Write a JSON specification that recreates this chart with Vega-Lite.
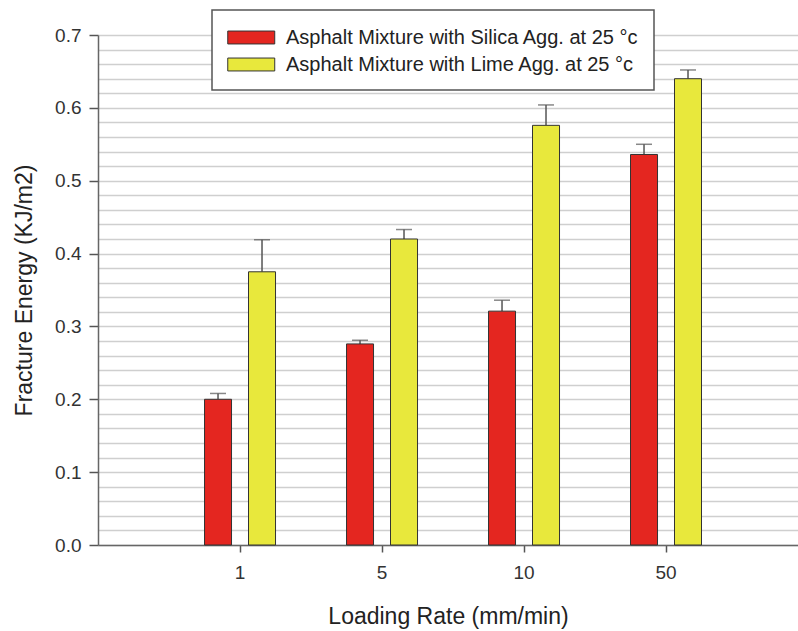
{
  "$schema": "https://vega.github.io/schema/vega-lite/v6.json",
  "width": 700,
  "height": 510,
  "autosize": {"type": "none"},
  "padding": {"left": 98, "top": 35, "right": 0, "bottom": 86},
  "background": "white",
  "config": {
    "view": {"stroke": null},
    "font": "Liberation Sans",
    "legend": {"strokeWidth": 1.5}
  },
  "resolve": {"axis": {"y": "independent"}},
  "data": {
    "values": [
      {"rate": "1", "series": "Asphalt Mixture with Silica Agg. at 25 °c", "value": 0.200, "upper": 0.208},
      {"rate": "1", "series": "Asphalt Mixture with Lime Agg. at 25 °c", "value": 0.375, "upper": 0.419},
      {"rate": "5", "series": "Asphalt Mixture with Silica Agg. at 25 °c", "value": 0.276, "upper": 0.281},
      {"rate": "5", "series": "Asphalt Mixture with Lime Agg. at 25 °c", "value": 0.420, "upper": 0.433},
      {"rate": "10", "series": "Asphalt Mixture with Silica Agg. at 25 °c", "value": 0.321, "upper": 0.336},
      {"rate": "10", "series": "Asphalt Mixture with Lime Agg. at 25 °c", "value": 0.576, "upper": 0.604},
      {"rate": "50", "series": "Asphalt Mixture with Silica Agg. at 25 °c", "value": 0.536, "upper": 0.550},
      {"rate": "50", "series": "Asphalt Mixture with Lime Agg. at 25 °c", "value": 0.640, "upper": 0.652}
    ]
  },
  "encoding": {
    "x": {
      "field": "rate", "type": "nominal", "sort": ["1", "5", "10", "50"],
      "scale": {"paddingInner": 0, "paddingOuter": 0.4648, "align": 0.538},
      "axis": {
        "title": "Loading Rate (mm/min)", "labelAngle": 0,
        "labelFontSize": 19, "labelColor": "#333333", "labelPadding": 11,
        "tickSize": 7, "tickColor": "#555555", "tickWidth": 1.5,
        "domainColor": "#666666", "domainWidth": 1.5,
        "titleFontSize": 23, "titleFontWeight": "normal", "titleColor": "#222222",
        "titleY": 78, "titleBaseline": "alphabetic", "grid": false
      }
    },
    "xOffset": {
      "field": "series", "type": "nominal",
      "sort": ["Asphalt Mixture with Silica Agg. at 25 °c", "Asphalt Mixture with Lime Agg. at 25 °c"],
      "scale": {"paddingInner": 0.386, "paddingOuter": 0.807}
    }
  },
  "layer": [
    {
      "mark": {"type": "rule", "color": "#555555", "strokeWidth": 1.5},
      "encoding": {
        "y": {
          "field": "value", "type": "quantitative",
          "scale": {"domain": [0, 0.7], "nice": false},
          "axis": {
            "orient": "left",
            "values": [0, 0.02, 0.04, 0.06, 0.08, 0.1, 0.12, 0.14, 0.16, 0.18, 0.2, 0.22, 0.24, 0.26, 0.28, 0.3, 0.32, 0.34, 0.36, 0.38, 0.4, 0.42, 0.44, 0.46, 0.48, 0.5, 0.52, 0.54, 0.56, 0.58, 0.6, 0.62, 0.64, 0.66, 0.68, 0.7],
            "grid": true, "gridColor": "#cfcfcf", "gridWidth": 1.6,
            "labels": false, "ticks": false, "domain": false, "title": null
          }
        },
        "y2": {"field": "upper"}
      }
    },
    {
      "mark": {"type": "tick", "color": "#555555", "thickness": 1.5, "size": 16, "orient": "horizontal"},
      "encoding": {
        "y": {"field": "upper", "type": "quantitative", "axis": null}
      }
    },
    {
      "mark": {"type": "bar", "stroke": "#333333", "strokeWidth": 1},
      "encoding": {
        "y": {
          "field": "value", "type": "quantitative",
          "axis": {
            "orient": "left",
            "values": [0, 0.1, 0.2, 0.3, 0.4, 0.5, 0.6, 0.7], "format": ".1f",
            "grid": false, "labelFontSize": 19, "labelColor": "#333333",
            "labelPadding": 8, "tickSize": 9, "tickColor": "#555555", "tickWidth": 1.5,
            "domainColor": "#666666", "domainWidth": 1.5,
            "title": "Fracture Energy (KJ/m2)", "titleFontSize": 23, "titleFontWeight": "normal",
            "titleColor": "#222222", "titleX": -74, "titleY": 255, "titleAngle": -90,
            "titleAlign": "center", "titleBaseline": "middle"
          }
        },
        "color": {
          "field": "series", "type": "nominal",
          "sort": ["Asphalt Mixture with Silica Agg. at 25 °c", "Asphalt Mixture with Lime Agg. at 25 °c"],
          "scale": {"range": ["#e42620", "#e8e83c"]},
          "legend": {
            "title": null, "orient": "none", "legendX": 114, "legendY": -25,
            "direction": "vertical",
            "fillColor": "white", "strokeColor": "#555555",
            "padding": 15, "rowPadding": 4,
            "symbolType": "M-1,-0.55L3,-0.55L3,0.55L-1,0.55Z", "symbolSize": 552,
            "symbolStrokeColor": "#333333", "symbolStrokeWidth": 1, "symbolOpacity": 1,
            "labelFontSize": 20, "labelColor": "#222222", "labelOffset": 34, "labelLimit": 500
          }
        }
      }
    }
  ]
}
